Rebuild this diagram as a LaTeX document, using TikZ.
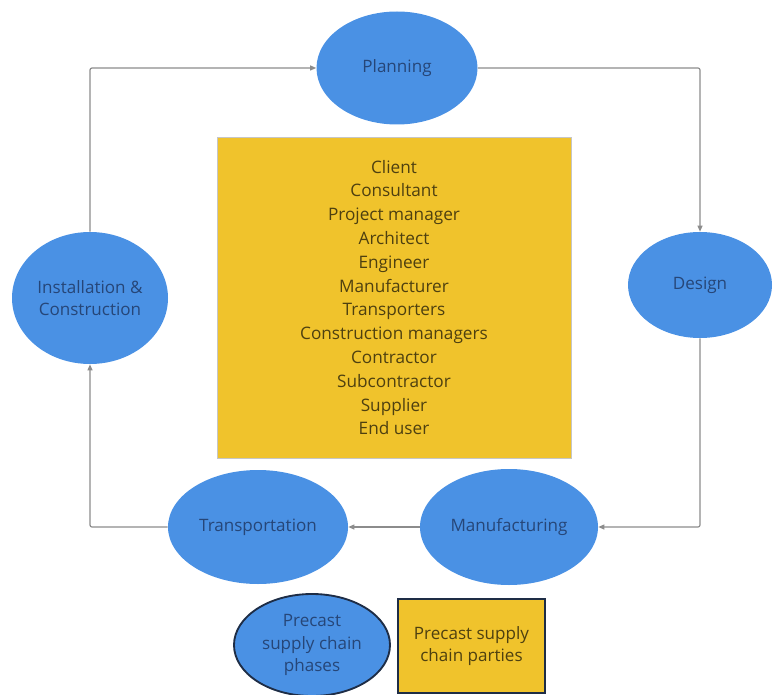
\documentclass[tikz,border=0pt]{standalone}
\usepackage{fontspec}
\setmainfont{Open Sans}
\usetikzlibrary{positioning,arrows.meta,shapes.geometric}
\definecolor{PhaseBlue}{RGB}{74,145,228}
\definecolor{PhaseText}{RGB}{38,70,120}
\definecolor{PartyGold}{RGB}{240,195,44}
\definecolor{PartyText}{RGB}{78,64,16}
\definecolor{LineGrey}{RGB}{140,140,140}
\definecolor{KeyEdge}{RGB}{30,45,70}
\tikzset{
  flow/.style={-{Triangle[length=1.6mm,width=1.3mm]},line width=0.9pt,draw=LineGrey,
    rounded corners=1.5pt},
  phase/.style={ellipse,fill=PhaseBlue,inner sep=0pt,align=center,
    text=PhaseText,font=\fontsize{12.8}{16.8}\selectfont},
  parties/.style={draw=gray!45,line width=0.5pt,fill=PartyGold,inner sep=0pt,align=center,
    text=PartyText,font=\fontsize{12.9}{17.85}\selectfont},
  phasekey/.style={phase,draw=KeyEdge,line width=1.4pt},
  partykey/.style={parties,draw=KeyEdge,line width=1.4pt,font=\fontsize{12.8}{17}\selectfont}
}

\begin{document}
\begin{tikzpicture}[x=0.75pt,y=-0.75pt]
  \useasboundingbox (0,0) rectangle (774,695);

  % phases round the cycle
  \node[phase,minimum width=120.75pt,minimum height=84.75pt] (plan) at (397,68) {Planning};
  \node[phase,minimum width=108pt,minimum height=79.5pt] (design) at (700,285) {Design};
  \node[phase,minimum width=133.5pt,minimum height=87pt] (manuf) at (509,527) {Manufacturing};
  \node[phase,minimum width=135pt,minimum height=85.5pt] (transp) at (258,527) {Transportation};
  \node[phase,minimum width=117pt,minimum height=99pt] (install) at (90,298)
    {Installation \&\\Construction};

  % parties in the middle
  \node[parties,minimum width=265.5pt,minimum height=240.75pt] (party) at (394,297.5) {
    Client\\Consultant\\Project manager\\Architect\\Engineer\\Manufacturer\\
    Transporters\\Construction managers\\Contractor\\Subcontractor\\Supplier\\End user
  };

  \draw[flow] (install.north) |- (plan.west);
  \draw[flow] (plan.east) -| (design.north);
  \draw[flow] (design.south) |- (manuf.east);
  \draw[flow] (manuf.west) -- (transp.east);
  \draw[flow] (transp.west) -| (install.south);

  % key
  \node[phasekey,minimum width=117pt,minimum height=76.5pt] (keyphase) at (312,645)
    {Precast\\supply chain\\phases};
  \node[partykey,minimum width=110.25pt,minimum height=70.5pt] (keyparty) at (471.5,646)
    {Precast supply\\chain parties};
\end{tikzpicture}
\end{document}
